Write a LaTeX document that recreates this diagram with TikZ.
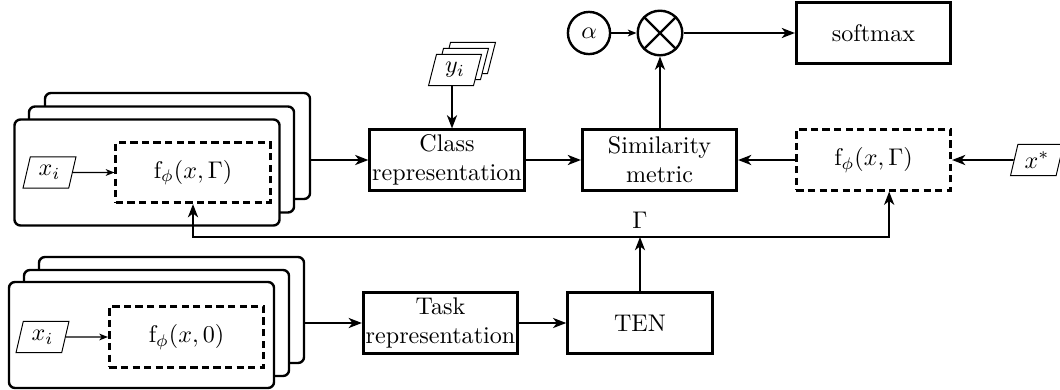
\documentclass[tikz,border=0pt]{standalone}
\usepackage{amsmath}
\usepackage{tikz}
\usetikzlibrary{arrows.meta, positioning, shapes.geometric}

\begin{document}
\begin{tikzpicture}[x=0.415pt, y=-0.415pt]
\tikzstyle{block} = [rectangle, draw=black, line width=1.2pt, minimum width=64pt, minimum height=25pt, inner sep=1pt, align=center, fill=white]
\tikzstyle{dashblock} = [block, dash pattern=on 3pt off 1.8pt]
\tikzstyle{card} = [rectangle, draw=black, line width=1pt, rounded corners=2.5pt, minimum width=110pt, minimum height=44pt, fill=white]
\tikzstyle{datum} = [trapezium, trapezium left angle=75, trapezium right angle=105, trapezium stretches=true, draw=black, thin, minimum width=22pt, minimum height=13pt, inner sep=1pt, fill=white]
\tikzstyle{op} = [circle, draw=black, line width=1pt, minimum size=17.5pt, inner sep=0pt]
\tikzstyle{arrow} = [thick,-{Stealth[length=5.5pt,width=4.2pt,inset=1.6pt]}]
\tikzstyle{thinarrow} = [semithick,-{Stealth[length=3.6pt,width=2.8pt,inset=1pt]}]

\useasboundingbox (0,0) rectangle (1060,389);

% support set, conditioned on Gamma
\node (supback) [card] at (177.5,146) {};
\node (supmid) [card] at (161.5,159.5) {};
\node (supfront) [card] at (147,172.5) {};
\node (ftop) [dashblock] at (193,172.5) {$\mathrm{f}_\phi(x,\Gamma)$};
\node (xtop) [datum] at (49.5,172.5) {$x_i$};

% task set, unconditioned
\node (taskback) [card] at (171.5,310) {};
\node (taskmid) [card] at (156.5,323) {};
\node (taskfront) [card] at (141.5,335) {};
\node (fbot) [dashblock] at (186.5,337) {$\mathrm{f}_\phi(x,0)$};
\node (xbot) [datum] at (42.5,337) {$x_i$};

% labels y_i
\node (yback) [datum] at (469,58) {\phantom{$y_i$}};
\node (ymid) [datum] at (462,64) {\phantom{$y_i$}};
\node (yfront) [datum] at (455,70) {$y_i$};
\coordinate (ydown) at (452,0);

\node (classrep) [block] at (447,160) {Class\\representation};
\node (simil) [block] at (659.5,160) {Similarity\\metric};
\node (fright) [dashblock] at (873.5,160) {$\mathrm{f}_\phi(x,\Gamma)$};
\node (xstar) [datum] at (1037,160) {$x^*$};

\node (alpha) [op] at (589,33) {$\alpha$};
\node (mult) [op, minimum size=18.5pt] at (660,33) {};
\draw[line width=1pt] (mult.north west) -- (mult.south east);
\draw[line width=1pt] (mult.north east) -- (mult.south west);
\node (softmax) [block] at (873.5,33) {softmax};

\node (taskrep) [block, minimum width=60pt] at (440.5,323) {Task\\representation};
\node (ten) [block, minimum width=60pt] at (640,323) {TEN};

\coordinate (gam) at (640,237);
\node (gamlabel) [above=0pt of gam] {$\Gamma$};

\draw [thinarrow] (xtop) -- (ftop);
\draw [thinarrow] (xbot) -- (fbot);
\draw [arrow] (supback.east |- classrep) -- (classrep);
\draw [arrow] (taskback.east |- taskrep) -- (taskrep);
\draw [arrow] (yfront.south -| ydown) -- (classrep.north -| ydown);
\draw [arrow] (classrep) -- (simil);
\draw [arrow] (fright) -- (simil);
\draw [arrow] (xstar) -- (fright);
\draw [arrow] (simil.north -| mult) -- (mult);
\draw [thinarrow] (alpha) -- (mult);
\draw [arrow] (mult) -- (softmax);
\draw [arrow] (taskrep) -- (ten);
\draw [arrow] (ten) -- (gam);
\draw [thick,{Stealth[length=5.5pt,width=4.2pt,inset=1.6pt]}-{Stealth[length=5.5pt,width=4.2pt,inset=1.6pt]}] (ftop.south) |- (gam) -| ([xshift=6.5]fright.south);
\end{tikzpicture}
\end{document}
